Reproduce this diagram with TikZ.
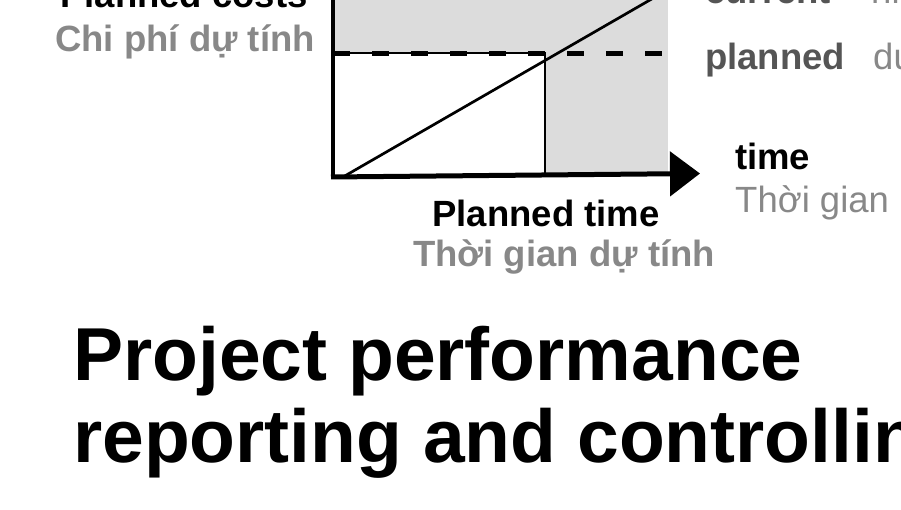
\documentclass[tikz,border=0pt]{standalone}
\usepackage{fontspec}
\setmainfont{Liberation Sans}
\usetikzlibrary{arrows.meta}
\definecolor{greyfill}{RGB}{220,220,220}
\definecolor{labgrey}{RGB}{136,136,136}
\definecolor{darkgrey}{RGB}{85,85,85}
\begin{document}
\begin{tikzpicture}[x=1pt,y=-1pt,
  lab/.style={font=\fontsize{36.5}{40}\selectfont\bfseries, inner sep=0pt},
  reg/.style={font=\fontsize{36.5}{40}\selectfont, inner sep=0pt},
  ttl/.style={font=\fontsize{75}{82}\selectfont\bfseries, inner sep=0pt, anchor=base west},
  thin/.style={line width=2.7pt}]
\useasboundingbox (0,0) rectangle (901,510);
\clip (0,0) rectangle (901,510);
% regions
\coordinate (gtl) at (335,-5);
\coordinate (gbr) at (668,175);
\coordinate (wtl) at (335,53);
\coordinate (wtr) at (545,53);
\coordinate (wbr) at (545,175);
\fill[greyfill] (gtl) rectangle (gbr);
\fill[white] (wtl) rectangle (wbr);
\draw[thin] (wtl) -- (wtr) -- (wbr);
% planned level dashed
\coordinate (d0) at (335,53.5);
\coordinate (d1) at (668,53.5);
\draw[line width=5pt, dash pattern=on 17pt off 22pt, dash phase=2pt] (d0) -- (d1);
% diagonal
\coordinate (g0) at (343,177);
\coordinate (g1) at (656,-3.5);
\draw[thin] (g0) -- (g1);
% axes
\coordinate (o) at (333,179);
\coordinate (ytop) at (333,-5);
\coordinate (xo) at (331,177);
\coordinate (xend) at (700,173.5);
\draw[line width=4pt] (ytop) -- (o);
\draw[line width=5pt, -{Triangle[length=30pt,width=44pt]}] (xo) -- (xend);
% labels
\node[lab, anchor=base] (pc) at (184,8) {Planned costs};
\node[lab, text=labgrey, anchor=base] (cp) at (185,52) {Chi phí dự tính};
\node[lab, anchor=base] (pt) at (546,227) {Planned time};
\node[lab, text=labgrey, anchor=base] (tg) at (564,267) {Thời gian dự tính};
\node[lab, anchor=base west] (tm) at (735,170) {time};
\node[reg, text=labgrey, anchor=base west] (tv) at (735,213) {Thời gian};
\node[lab, text=darkgrey, anchor=base west] (cur) at (705,4) {current};
\node[reg, text=labgrey, anchor=base west] (curv) at (871,4) {hiện tại};
\node[lab, text=darkgrey, anchor=base west] (pl) at (705,70) {planned};
\node[reg, text=labgrey, anchor=base west] (plv) at (873,70) {dự tính};
% title
\node[ttl] (t1) at (73,380) {Project performance};
\node[ttl] (t2) at (73,462) {reporting and controlling};
\end{tikzpicture}
\end{document}
